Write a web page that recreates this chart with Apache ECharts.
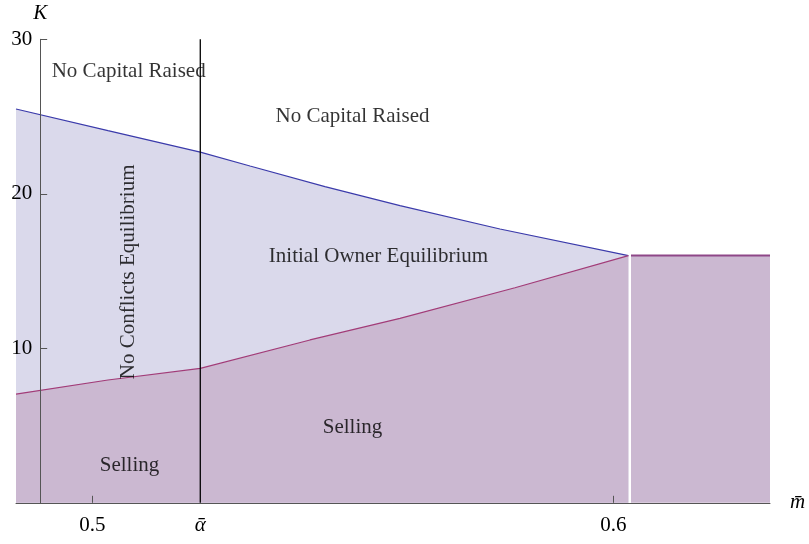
<!DOCTYPE html>
<html>
<head>
<meta charset="utf-8">
<script src="https://cdn.jsdelivr.net/npm/echarts@6/dist/echarts.min.js"></script>
<style>html,body{margin:0;padding:0;background:#fff}#c{width:809px;height:544px}</style>
</head>
<body>
<div id="c"></div>
<script>
// ---- data ----
const mRange = [0.48536, 0.63008];
const kRange = [0, 30];
const alphaBar = 0.52073;
const yAxisAtM = 0.49;
const yTicks = [10, 20, 30];
const xTicks = [0.5, 0.6];
const xLabelValues = [0.5, alphaBar, 0.6];
const xLabelTexts = ['0.5', 'ᾱ', '0.6'];

const upperM = [0.48536, 0.50301, 0.52073, 0.53027, 0.54466, 0.55906, 0.57825, 0.6029];
const upperK = [25.49, 24.09, 22.70, 21.80, 20.46, 19.23, 17.72, 16.0];
const lowerM = [0.48536, 0.50301, 0.52073, 0.54179, 0.55906, 0.58113, 0.6029];
const lowerK = [7.04, 7.95, 8.70, 10.54, 11.94, 13.92, 16.0];
const flatM = [0.6034, 0.63008];
const flatK = [16, 16];
const alphaLineK = [0, 30];

const noteTexts = ['No Capital Raised', 'No Capital Raised', 'Initial Owner Equilibrium', 'No Conflicts Equilibrium', 'Selling', 'Selling'];
const noteM = [0.50699, 0.54994, 0.55493, 0.50700, 0.54994, 0.50714];
const noteK = [27.92, 25.00, 15.92, 14.95, 4.85, 2.42];
const noteRotate = [0, 0, 0, 90, 0, 0];

// ---- chart ----
const FONT = '"Liberation Serif", "Times New Roman", serif';
const FS = 21;
const zip = (a, b) => a.map((v, i) => [v, b[i]]);
const W = 809, H = 544;
const gridLeft = 16, gridRight = 39, gridTop = 39.3, gridBottom = 41.2;
const gridWidth = W - gridLeft - gridRight;
const yAxisPx = gridLeft + (yAxisAtM - mRange[0]) / (mRange[1] - mRange[0]) * gridWidth;
const axisColor = '#555';
const chart = echarts.init(document.getElementById('c'), null, {renderer: 'canvas'});

chart.setOption({
  animation: false,
  grid: {left: gridLeft, right: gridRight, top: gridTop, bottom: gridBottom, containLabel: false, outerBoundsMode: 'none'},
  xAxis: {
    type: 'value', min: mRange[0], max: mRange[1], z: 10,
    name: 'm̄', nameLocation: 'end', nameGap: 20,
    nameTextStyle: {fontFamily: FONT, fontSize: FS, fontStyle: 'italic', color: '#000', verticalAlign: 'middle', padding: [6, 0, 0, 0]},
    axisLine: {show: true, lineStyle: {color: axisColor, width: 1}},
    axisTick: {show: true, inside: true, length: 7, customValues: xTicks, lineStyle: {color: axisColor}},
    axisLabel: {
      show: true, margin: 12, customValues: xLabelValues,
      fontFamily: FONT, fontSize: FS, color: '#000',
      formatter: v => {
        const i = xLabelValues.findIndex(x => Math.abs(x - v) < 1e-6);
        if (i < 0) return '';
        return i === 1 ? '{a|' + xLabelTexts[i] + '}' : xLabelTexts[i];
      },
      rich: {a: {fontFamily: FONT, fontSize: FS, fontStyle: 'italic', color: '#000'}}
    },
    splitLine: {show: false}
  },
  yAxis: {
    type: 'value', min: kRange[0], max: kRange[1], interval: 10, offset: gridLeft - yAxisPx, z: 10,
    name: 'K', nameLocation: 'end', nameGap: 15,
    nameTextStyle: {fontFamily: FONT, fontSize: FS, fontStyle: 'italic', color: '#000'},
    axisLine: {show: true, lineStyle: {color: axisColor, width: 1}},
    axisTick: {show: true, inside: true, length: 7, customValues: yTicks, lineStyle: {color: axisColor}},
    axisLabel: {show: true, margin: 8, customValues: yTicks, fontFamily: FONT, fontSize: FS, color: '#000'},
    splitLine: {show: false}
  },
  series: [
    {
      type: 'line', data: zip(upperM, upperK), symbol: 'none', z: 1,
      lineStyle: {color: '#3b3bab', width: 1.2},
      areaStyle: {color: '#dad9eb', opacity: 1, origin: 'start'}
    },
    {
      type: 'line', data: zip(lowerM, lowerK), symbol: 'none', z: 2,
      lineStyle: {color: '#a23c78', width: 1.2},
      areaStyle: {color: '#cbb8d1', opacity: 1, origin: 'start'}
    },
    {
      type: 'line', data: zip(flatM, flatK), symbol: 'none', z: 2,
      lineStyle: {color: '#8e4787', width: 2},
      areaStyle: {color: '#cbb8d1', opacity: 1, origin: 'start'}
    },
    {
      type: 'line', data: alphaLineK.map(k => [alphaBar, k]), symbol: 'none', z: 3, silent: true,
      lineStyle: {color: '#000', width: 1.3}
    },
    {
      type: 'scatter', symbolSize: 0, z: 5, silent: true,
      data: noteTexts.map((t, i) => ({
        name: t, value: [noteM[i], noteK[i]],
        label: {rotate: noteRotate[i]}
      })),
      label: {
        show: true, position: 'inside', formatter: p => p.name,
        fontFamily: FONT, fontSize: FS, color: '#000'
      }
    }
  ]
});
</script>
</body>
</html>
